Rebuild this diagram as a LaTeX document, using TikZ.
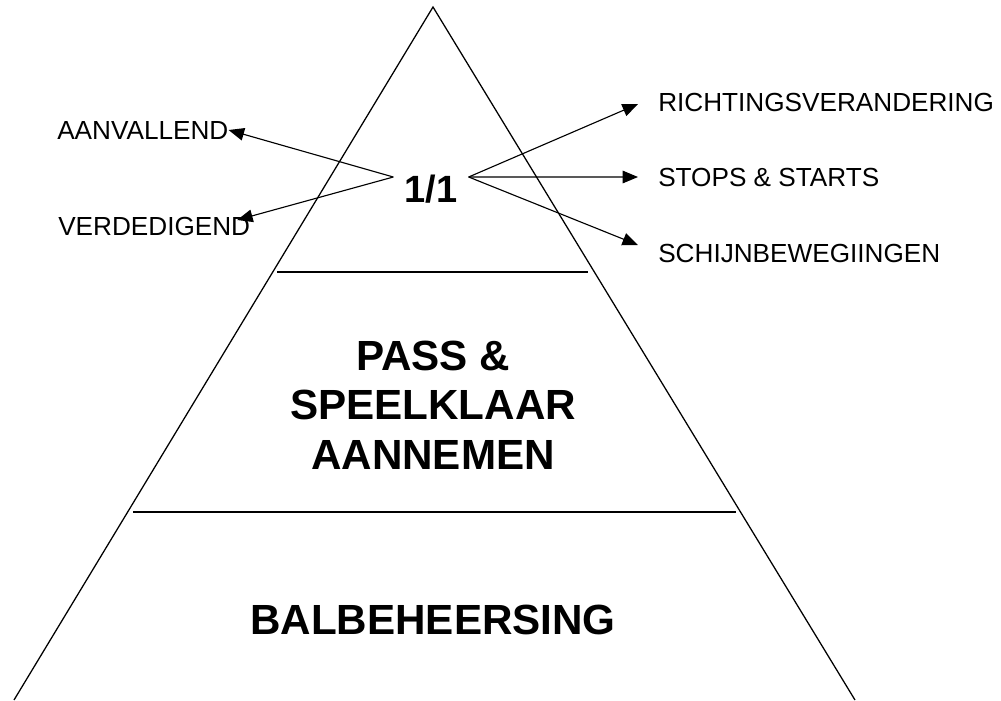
\documentclass[tikz,border=0pt]{standalone}
\usepackage{fontspec}
\setmainfont{Liberation Sans}
\usetikzlibrary{arrows.meta, positioning}

\begin{document}
\begin{tikzpicture}[
    x=0.025cm, y=-0.025cm,
    >={Triangle[length=11pt, width=9pt]},
    edge/.style={line width=0.9pt},
    divider/.style={line width=1.3pt},
    arrow/.style={->, line width=0.8pt},
    level/.style={font=\fontsize{30}{35.2}\selectfont\bfseries, align=center, inner sep=0pt},
    item/.style={font=\fontsize{18.6}{22}\selectfont, inner sep=0pt, anchor=west},
    target/.style={item, inner xsep=0.5cm}
]

% Canvas
\useasboundingbox (0,0) rectangle (1001,700);

% Pyramid
\coordinate (apex) at (433,7);
\draw[edge] (14,700) -- (apex) -- (855,700);
\draw[divider] (277,272) -- (588,272);
\draw[divider] (133,512) -- (736,512);

% Levels
\node[level] (bal) at (433,620) {BALBEHEERSING};
\node[level] (pass) at (433,405) {PASS \&\\SPEELKLAAR\\AANNEMEN};
\node[level, font=\fontsize{27}{32}\selectfont\bfseries, inner xsep=0.275cm] (one) at (431,189) {1/1};

% Left side
\node[item] (aanv) at (57,130) {AANVALLEND};
\node[item] (verd) at (58,226) {VERDEDIGEND};

% Right side
\node[target] (rich) at (638,102) {RICHTINGSVERANDERING};
\node[target] (stops) at (638,177) {STOPS \& STARTS};
\node[target] (schijn) at (638,253) {SCHIJNBEWEGIINGEN};

% Arrows from 1/1
\draw[arrow] ([yshift=0.3cm]one.west) -- (aanv.east);
\draw[arrow] ([yshift=0.3cm]one.west) -- ([xshift=-0.33cm, yshift=0.15cm]verd.east);
\draw[arrow] ([yshift=0.3cm]one.east) -- ([yshift=-0.05cm]rich.west);
\draw[arrow] ([yshift=0.3cm]one.east) -- (stops.west);
\draw[arrow] ([yshift=0.3cm]one.east) -- ([yshift=0.2cm]schijn.west);

\end{tikzpicture}
\end{document}
